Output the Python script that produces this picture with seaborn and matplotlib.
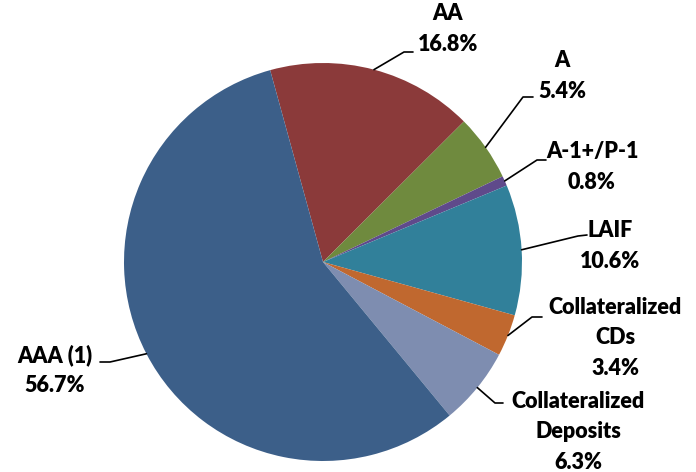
import numpy as np
import matplotlib
matplotlib.use("Agg")
import matplotlib.pyplot as plt
import seaborn as sns

# Portfolio breakdown (clockwise from the AA slice)
categories = ["AA", "A", "A-1+/P-1", "LAIF", "Collateralized\nCDs",
              "Collateralized\nDeposits", "AAA (1)"]
shares = [16.8, 5.4, 0.8, 10.6, 3.4, 6.3, 56.7]
colors = ["#8B3A3A", "#6F8A3E", "#5F4A8B", "#31809A", "#C0682F",
          "#7E8DB0", "#3C5F89"]

sns.set_theme(style="white")
plt.rcParams["font.family"] = ["Lato", "DejaVu Sans"]

W, H = 696, 472
cx, cy, R = 323, 262, 199   # pie centre / radius in pixels

fig = plt.figure(figsize=(W / 100, H / 100), dpi=100)
ax = fig.add_axes([0, 0, 1, 1])


def px(x, y):
    # pixel coordinates -> data coordinates
    return (x - cx) / R, (cy - y) / R


start = 105.4
wedges, _ = ax.pie(shares, colors=colors, startangle=start, counterclock=False,
                   radius=1, center=(0, 0), frame=True,
                   wedgeprops=dict(linewidth=0))
ax.set_xlim(-cx / R, (W - cx) / R)
ax.set_ylim((cy - H) / R, cy / R)
ax.set_aspect("equal")
ax.axis("off")

# label block centre, leader elbow, leader end (pixels)
label_pos = [(448, 29), (562, 76), (592, 167), (610, 246), (615, 338),
             (578, 432), (55, 370)]
elbows = [(404, 52), (523, 97), (537, 160), (578, 236), (532, 317),
          (495, 403), (110, 362)]
ends = [(413, 52), (533, 97), (546, 160), (587, 235), (542, 317),
        (503, 403), (100, 362)]

for w, cat, val, lp, el, en in zip(wedges, categories, shares, label_pos, elbows, ends):
    mid = np.deg2rad((w.theta1 + w.theta2) / 2)
    ex, ey = np.cos(mid), np.sin(mid)
    p1 = px(*el)
    p2 = px(*en)
    ax.plot([ex, p1[0], p2[0]], [ey, p1[1], p2[1]], color="black", lw=1.2)
    tx, ty = px(*lp)
    ax.text(tx, ty, f"{cat}\n{val:.1f}%", ha="center", va="center",
            multialignment="center", fontsize=15.5, fontweight="heavy",
            linespacing=1.55, color="black")

fig.savefig("out.png", dpi=100)
